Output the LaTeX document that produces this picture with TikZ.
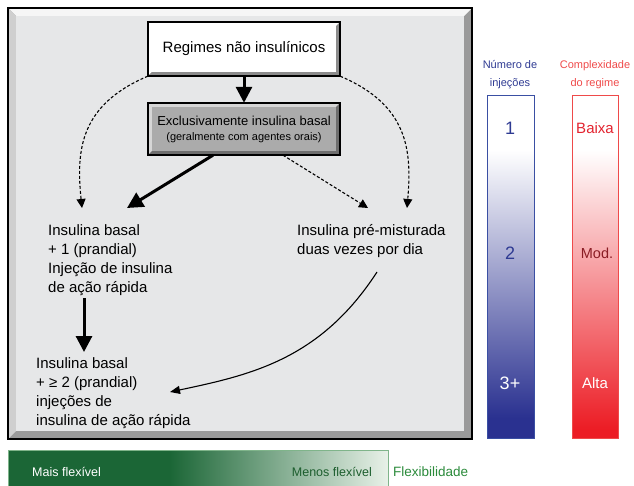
\documentclass[tikz,border=0pt]{standalone}
\usepackage{fontspec}
\setmainfont{Liberation Sans}
\usetikzlibrary{arrows.meta,calc}
\definecolor{panelfill}{HTML}{E6E7E8}
\definecolor{paneltop}{HTML}{F6F6F6}
\definecolor{panelleft}{HTML}{CFCFCF}
\definecolor{panelshadow}{HTML}{9A9A9A}
\definecolor{boxgray}{HTML}{ABABAB}
\definecolor{boxlight}{HTML}{D6D6D6}
\definecolor{boxdark}{HTML}{6E6E6E}
\definecolor{whitedark}{HTML}{8C8C8C}
\definecolor{bluedark}{HTML}{2A3190}
\definecolor{blueline}{HTML}{3A4FA3}
\definecolor{bluetext}{HTML}{2E3A92}
\definecolor{redbar}{HTML}{EC1C24}
\definecolor{redline}{HTML}{EF4A4A}
\definecolor{redtext}{HTML}{E32430}
\definecolor{redmod}{HTML}{8A1C24}
\definecolor{gdark}{HTML}{1B6636}
\definecolor{glight}{HTML}{E8F1E8}
\definecolor{gline}{HTML}{7FB48A}
\definecolor{gtext}{HTML}{1D5E2E}
\definecolor{gflex}{HTML}{2A8A3A}
\newcommand{\bvl}[4]{%
  \fill[#2] (#1.north west) -- (#1.north east) -- ([shift={(-#4,-#4)}]#1.north east)
    -- ([shift={(#4,-#4)}]#1.north west) -- ([shift={(#4,#4)}]#1.south west) -- (#1.south west) -- cycle;
  \fill[#3] (#1.south east) -- (#1.north east) -- ([shift={(-#4,-#4)}]#1.north east)
    -- ([shift={(-#4,#4)}]#1.south east) -- ([shift={(#4,#4)}]#1.south west) -- (#1.south west) -- cycle;
  \draw[line width=1.5pt] (#1.north west) rectangle (#1.south east);}
\tikzset{
  boxnode/.style={minimum width=192pt, inner sep=0pt, align=center},
  txt/.style={font=\fontsize{15}{19}\selectfont, align=left, inner sep=0pt, anchor=north west},
  thickarr/.style={line width=3pt, -{Triangle[length=16pt,width=16pt]}},
  dasharr/.style={line width=1.1pt, dash pattern=on 3pt off 2pt, -{Triangle[length=9pt,width=9pt]}},
  thinarr/.style={line width=1.1pt, -{Triangle[length=10pt,width=8pt]}},
  barlab/.style={font=\fontsize{11}{18}\selectfont, align=center, inner sep=0pt},
}
\begin{document}
\begin{tikzpicture}[x=1pt,y=-1pt]
\useasboundingbox (0,0) rectangle (634,486);
% panel
\fill[panelshadow] (8,8) rectangle (472,439);
\fill[paneltop] (8,8) -- (472,8) -- (464,16) -- (16,16) -- cycle;
\fill[panelleft] (8,8) -- (16,16) -- (16,431) -- (8,439) -- cycle;
\fill[panelfill] (16,16) rectangle (464,431);
\draw[line width=1.5pt] (8,8) rectangle (472,439);
% boxes
\node[boxnode, minimum height=54pt, fill=white, font=\fontsize{15}{18}\selectfont] (top) at (244,49) {Regimes não insulínicos};
\bvl{top}{white}{whitedark}{4pt}
\node[boxnode, minimum height=52pt, fill=boxgray] (mid) at (244,129)
  {{\fontsize{13}{15}\selectfont Exclusivamente insulina basal}\\[3pt]{\fontsize{11}{13}\selectfont (geralmente com agentes orais)}};
\bvl{mid}{boxlight}{boxdark}{4pt}
% texts
\node[txt] (b1) at (48,224) {Insulina basal\\+ 1 (prandial)\\Injeção de insulina\\de ação rápida};
\node[txt] (p1) at (297,224) {Insulina pré-misturada\\duas vezes por dia};
\node[txt] (b2) at (36,357) {Insulina basal\\+ ≥ 2 (prandial)\\injeções de\\insulina de ação rápida};
% connector ends
\coordinate (t1) at (82,208);
\coordinate (t2) at (127,208);
\coordinate (t3) at (368,208);
\coordinate (t4) at (407,208);
\coordinate (s1) at (84,298);
\coordinate (t5) at (84,352);
\coordinate (s2) at (377,272);
\coordinate (t6) at (170,392);
% connectors
\draw[thickarr] (top.south) -- (mid.north);
\draw[thickarr] ([xshift=-31pt]mid.south) -- (t2);
\draw[dasharr] ([xshift=39pt]mid.south) -- (t3);
\draw[dasharr] (top.south west) .. controls (80,105) and (76,150) .. (t1);
\draw[dasharr] (top.south east) .. controls (408,105) and (412,150) .. (t4);
\draw[thickarr] (s1) -- (t5);
\draw[thinarr] (s2) .. controls (320,360) and (250,375) .. (t6);
% blue bar
\node[barlab, text=bluetext] (nlab) at (510,75) {Número de\\injeções};
\fill[white] (487,95) rectangle (534,150);
\shade[top color=white, bottom color=bluedark] (487,150) rectangle (534,418);
\fill[bluedark] (487,417.5) rectangle (534,438);
\draw[blueline, line width=0.8pt] (487,95) rectangle (534,438);
\node[font=\fontsize{18}{20}\selectfont, text=bluetext] (n1) at (510,128) {1};
\node[font=\fontsize{18}{20}\selectfont, text=bluetext] (n2) at (510,253) {2};
\node[font=\fontsize{18}{20}\selectfont, text=white] (n3) at (510,383) {3+};
% red bar
\node[barlab, text=redline] (clab) at (595,75) {Complexidade\\do regime};
\fill[white] (572,95) rectangle (618,150);
\shade[top color=white, bottom color=redbar] (572,150) rectangle (618,430);
\fill[redbar] (572,429.5) rectangle (618,438);
\draw[redline, line width=0.8pt] (572,95) rectangle (618,438);
\node[font=\fontsize{15}{18}\selectfont, text=redtext] (cb) at (595,128) {Baixa};
\node[font=\fontsize{14.5}{18}\selectfont, text=redmod] (cm) at (597,253) {Mod.};
\node[font=\fontsize{15}{18}\selectfont, text=white] (ca) at (595,383) {Alta};
% green bar
\fill[gdark] (8,450) rectangle (170,486);
\shade[left color=gdark, right color=glight] (169.5,450) rectangle (388,486);
\draw[gline, line width=0.8pt] (8,486) -- (8,450) -- (388,450) -- (388,486);
\node[font=\fontsize{12.5}{15}\selectfont, text=white, anchor=west, inner sep=0pt] (mf) at (32,472) {Mais flexível};
\node[font=\fontsize{12.5}{15}\selectfont, text=gtext, anchor=east, inner sep=0pt] (lf) at (372,472) {Menos flexível};
\node[font=\fontsize{13.5}{16}\selectfont, text=gflex, anchor=west, inner sep=0pt] (fl) at (393,472) {Flexibilidade};
\end{tikzpicture}
\end{document}
